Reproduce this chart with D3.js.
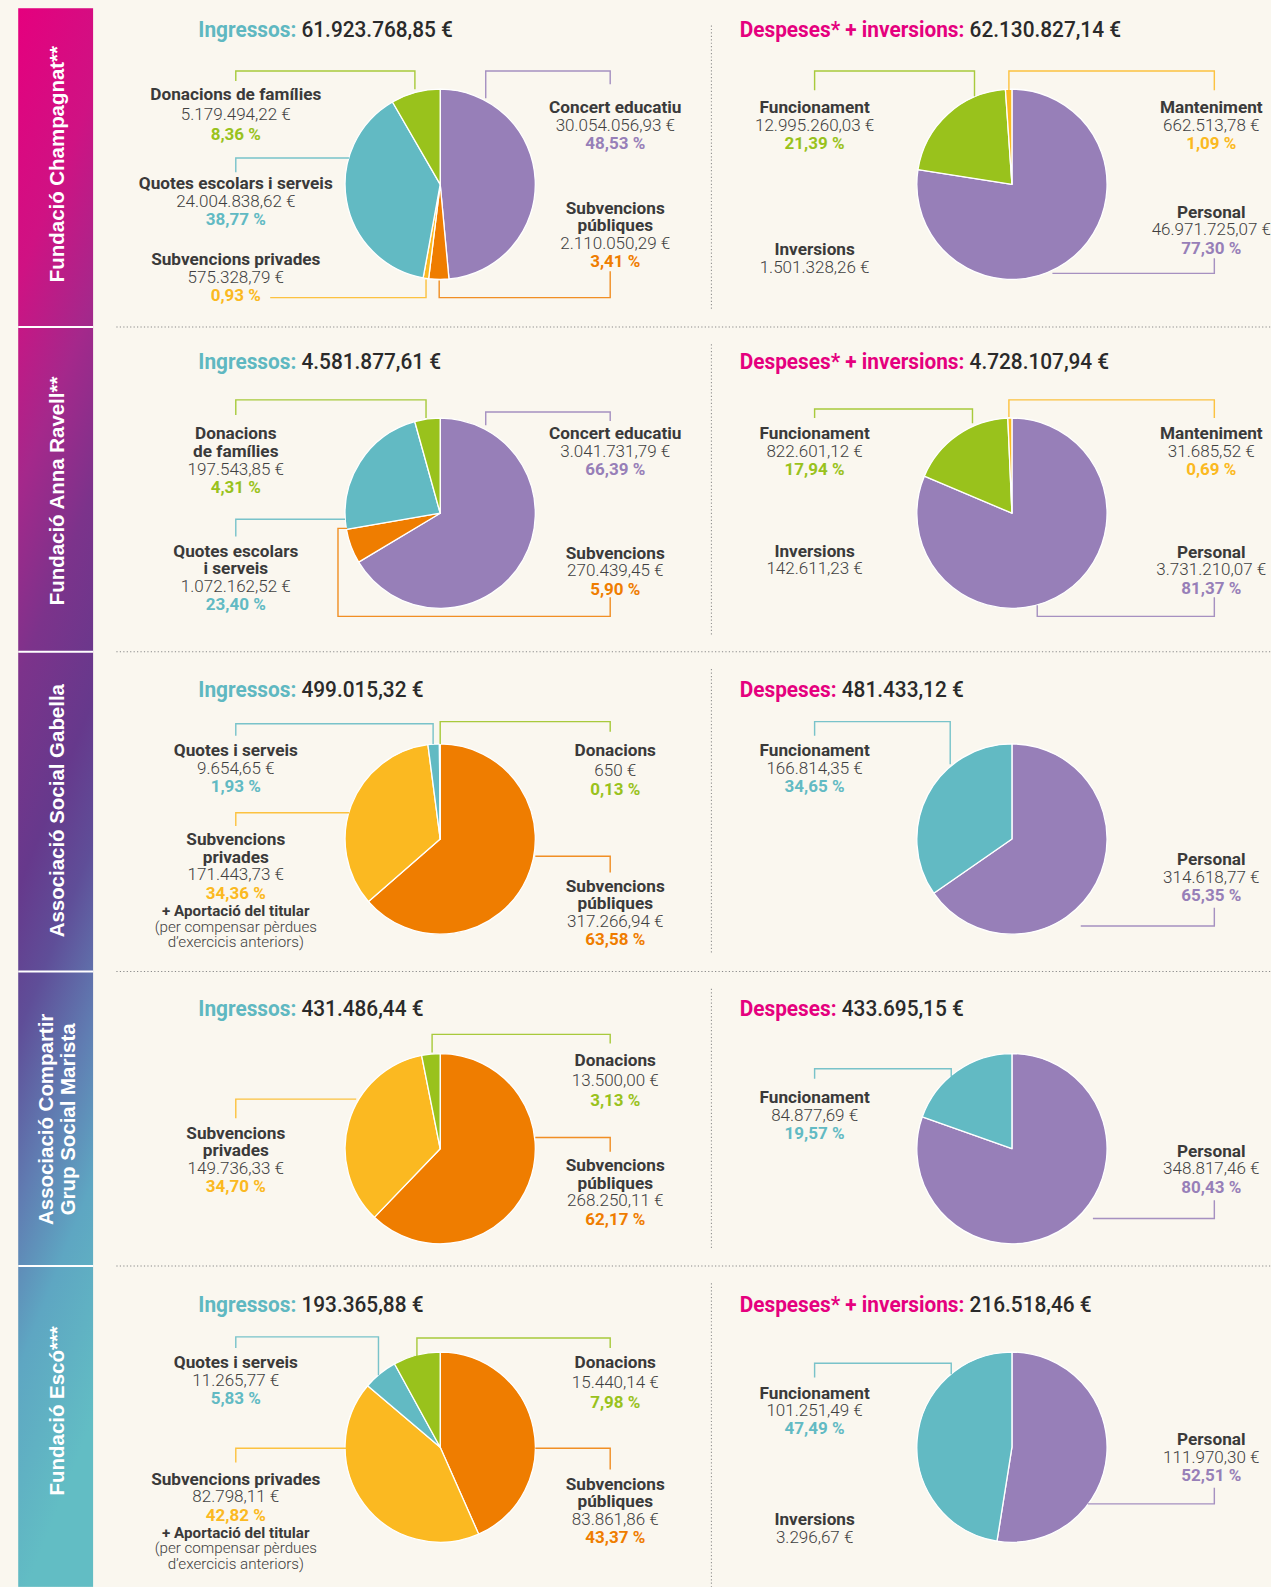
<!DOCTYPE html>
<html><head><meta charset="utf-8">
<script src="https://cdn.jsdelivr.net/npm/d3@7"></script>
<style>
html,body{margin:0;padding:0;background:#FAF7EF;}
svg{display:block;}
</style></head><body>
<svg id="chart" width="1271" height="1587" viewBox="0 0 1256 1568"></svg>
<script>
// ---------------- DATA ----------------
const orgNames = [["Fundació Champagnat**"], ["Fundació Anna Ravell**"], ["Associació Social Gabella"], ["Associació Compartir", "Grup Social Marista"], ["Fundació Escó***"]];
const incomeTitle = "Ingressos:";
const incomeTotals = ["61.923.768,85 €", "4.581.877,61 €", "499.015,32 €", "431.486,44 €", "193.365,88 €"];
const expenseTitles = ["Despeses* + inversions:", "Despeses* + inversions:", "Despeses:", "Despeses:", "Despeses* + inversions:"];
const expenseTotals = ["62.130.827,14 €", "4.728.107,94 €", "481.433,12 €", "433.695,15 €", "216.518,46 €"];
const inversions = ["1.501.328,26 €", "142.611,23 €", null, null, "3.296,67 €"];

const champIngressos = [
  {cat: "Concert educatiu", amount: "30.054.056,93 €", pct: 48.53},
  {cat: "Subvencions públiques", amount: "2.110.050,29 €", pct: 3.41},
  {cat: "Subvencions privades", amount: "575.328,79 €", pct: 0.93},
  {cat: "Quotes escolars i serveis", amount: "24.004.838,62 €", pct: 38.77},
  {cat: "Donacions de famílies", amount: "5.179.494,22 €", pct: 8.36}];
const champDespeses = [
  {cat: "Personal", amount: "46.971.725,07 €", pct: 77.30},
  {cat: "Funcionament", amount: "12.995.260,03 €", pct: 21.39},
  {cat: "Manteniment", amount: "662.513,78 €", pct: 1.09}];
const ravellIngressos = [
  {cat: "Concert educatiu", amount: "3.041.731,79 €", pct: 66.39},
  {cat: "Subvencions públiques", amount: "270.439,45 €", pct: 5.90},
  {cat: "Quotes escolars i serveis", amount: "1.072.162,52 €", pct: 23.40},
  {cat: "Donacions de famílies", amount: "197.543,85 €", pct: 4.31}];
const ravellDespeses = [
  {cat: "Personal", amount: "3.731.210,07 €", pct: 81.37},
  {cat: "Funcionament", amount: "822.601,12 €", pct: 17.94},
  {cat: "Manteniment", amount: "31.685,52 €", pct: 0.69}];
const gabellaIngressos = [
  {cat: "Subvencions públiques", amount: "317.266,94 €", pct: 63.58},
  {cat: "Subvencions privades", amount: "171.443,73 €", pct: 34.36},
  {cat: "Quotes i serveis", amount: "9.654,65 €", pct: 1.93},
  {cat: "Donacions", amount: "650 €", pct: 0.13}];
const gabellaDespeses = [
  {cat: "Personal", amount: "314.618,77 €", pct: 65.35},
  {cat: "Funcionament", amount: "166.814,35 €", pct: 34.65}];
const compartirIngressos = [
  {cat: "Subvencions públiques", amount: "268.250,11 €", pct: 62.17},
  {cat: "Subvencions privades", amount: "149.736,33 €", pct: 34.70},
  {cat: "Donacions", amount: "13.500,00 €", pct: 3.13}];
const compartirDespeses = [
  {cat: "Personal", amount: "348.817,46 €", pct: 80.43},
  {cat: "Funcionament", amount: "84.877,69 €", pct: 19.57}];
const escoIngressos = [
  {cat: "Subvencions públiques", amount: "83.861,86 €", pct: 43.37},
  {cat: "Subvencions privades", amount: "82.798,11 €", pct: 42.82},
  {cat: "Quotes i serveis", amount: "11.265,77 €", pct: 5.83},
  {cat: "Donacions", amount: "15.440,14 €", pct: 7.98}];
const escoDespeses = [
  {cat: "Personal", amount: "111.970,30 €", pct: 52.51},
  {cat: "Funcionament", amount: "101.251,49 €", pct: 47.49}];
const noteLines = ["+ Aportació del titular", "(per compensar pèrdues", "d’exercicis anteriors)"];

// ---------------- STYLE / LAYOUT ----------------
const palette = {purple: "#977FB8", teal: "#62BAC3", green: "#99C21C", orange: "#EF7D00", yellow: "#FBB921"};
const catColorIncome = {"Concert educatiu": "purple", "Subvencions públiques": "orange", "Subvencions privades": "yellow",
  "Quotes escolars i serveis": "teal", "Quotes i serveis": "teal", "Donacions de famílies": "green", "Donacions": "green"};
const expenseFuncColor = ["green", "green", "teal", "teal", "teal"];

const W = 1256, H = 1568;
const rowBounds = [8, 323, 644, 960, 1251, 1568];
const rowCy = [182, 507, 829, 1135, 1430];
const colCx = [435, 1000];
const titleY = [28, 357, 681, 996, 1288];
const titleX = [196, 731];
const sideY = [162, 485, 801, 1106, 1394];
const R = 94;

// label layout relative to pie centre: dx, dy, name lines, leader points, note, line gap
const L = (dx, dy, lines, leader, note, gap) => ({dx, dy, lines, leader, note, gap: gap || 18});
const layouts = [
  [ // row 1
    [L(173, -76, ["Concert educatiu"], [[45,-85],[45,-112],[168,-112],[168,-99]]),
     L(173, 23, ["Subvencions", "públiques"], [[168,86],[168,112],[-1,112],[-1,95]]),
     L(-202, 74, ["Subvencions privades"], [[-168,112],[-14,112],[-14,94]]),
     L(-202, -1, ["Quotes escolars i serveis"], [[-202,-12],[-202,-26],[-90,-26]]),
     L(-202, -89, ["Donacions de famílies"], [[-202,-102],[-202,-112],[-25,-112],[-25,-94]], false, 19.5)],
    [L(197, 27, ["Personal"], [[200,73],[200,88],[40,88]]),
     L(-195, -76, ["Funcionament"], [[-195,-93],[-195,-112],[-37,-112],[-37,-87]]),
     L(197, -76, ["Manteniment"], [[200,-93],[200,-112],[-3,-112],[-3,-92]]),
     L(-195, 64, ["Inversions"], null)]
  ],
  [ // row 2
    [L(173, -79, ["Concert educatiu"], [[45,-87],[45,-100],[168,-100],[168,-91]]),
     L(173, 39, ["Subvencions"], [[168,83],[168,102],[-101,102],[-101,15],[-92,15]]),
     L(-202, 37, ["Quotes escolars", "i serveis"], [[-202,23],[-202,6],[-94,6]]),
     L(-202, -79, ["Donacions", "de famílies"], [[-202,-97],[-202,-112],[-14,-112],[-14,-94]])],
    [L(197, 38, ["Personal"], [[200,83],[200,102],[25,102],[25,91]]),
     L(-195, -79, ["Funcionament"], [[-195,-94],[-195,-103],[-39,-103],[-39,-89]]),
     L(197, -79, ["Manteniment"], [[200,-94],[200,-112],[-3,-112],[-3,-95]]),
     L(-195, 37, ["Inversions"], null)]
  ],
  [ // row 3
    [L(173, 46, ["Subvencions", "públiques"], [[94,17],[168,17],[168,33]]),
     L(-202, 0, ["Subvencions", "privades"], [[-202,-13],[-202,-26],[-90,-26]], true),
     L(-202, -88, ["Quotes i serveis"], [[-202,-102],[-202,-114],[-7,-114],[-7,-94]]),
     L(173, -88, ["Donacions"], [[0,-94],[0,-116],[168,-116],[168,-106]], false, 19.5)],
    [L(197, 20, ["Personal"], [[200,68],[200,86],[68,86]]),
     L(-195, -88, ["Funcionament"], [[-195,-102],[-195,-116],[-61,-116],[-61,-74]])]
  ],
  [ // row 4
    [L(173, 16, ["Subvencions", "públiques"], [[94,-11],[168,-11],[168,3]]),
     L(-202, -16, ["Subvencions", "privades"], [[-202,-30],[-202,-49],[-83,-49]]),
     L(173, -88, ["Donacions"], [[-8,-95],[-8,-113],[168,-113],[168,-104]], false, 20)],
    [L(197, 2, ["Personal"], [[200,51],[200,69],[80,69]]),
     L(-195, -51, ["Funcionament"], [[-195,-69],[-195,-79],[-60,-79],[-60,-71]])]
  ],
  [ // row 5
    [L(173, 36, ["Subvencions", "públiques"], [[94,1],[168,1],[168,22]]),
     L(-202, 31, ["Subvencions privades"], [[-202,15],[-202,1],[-90,1]], true),
     L(-202, -84, ["Quotes i serveis"], [[-202,-98],[-202,-109],[-61,-109],[-61,-71]]),
     L(173, -84, ["Donacions"], [[-23,-88],[-23,-108],[168,-108],[168,-98]], false, 19.5)],
    [L(197, -8, ["Personal"], [[200,40],[200,56],[75,56]]),
     L(-195, -54, ["Funcionament"], [[-195,-69],[-195,-83],[-60,-83],[-60,-72]]),
     L(-195, 71, ["Inversions"], null)]
  ]
];
const incomeData = [champIngressos, ravellIngressos, gabellaIngressos, compartirIngressos, escoIngressos];
const expenseData = [champDespeses, ravellDespeses, gabellaDespeses, compartirDespeses, escoDespeses];

// ---------------- DRAW ----------------
const FONT = "Roboto, 'Noto Sans', sans-serif";
const svg = d3.select("#chart");
const locale = d3.formatLocale({decimal: ",", thousands: ".", grouping: [3], currency: ["", " €"]});
const pctFmt = v => locale.format(".2f")(v) + " %";

svg.append("rect").attr("width", W).attr("height", H).attr("fill", "#FAF7EF");

// sidebar gradient
const defs = svg.append("defs");
const grad = defs.append("linearGradient").attr("id", "side").attr("x1", 0).attr("y1", 0).attr("x2", 0.12).attr("y2", 1);
[[0, "#E5007E"], [0.17, "#CF1283"], [0.3, "#A5288B"], [0.42, "#7C338B"], [0.55, "#66398C"], [0.64, "#5F4E98"], [0.75, "#607DB2"], [0.85, "#5EA6C2"], [1, "#62BDC4"]]
  .forEach(([o, c]) => grad.append("stop").attr("offset", o).attr("stop-color", c));
svg.append("rect").attr("x", 18).attr("y", 8).attr("width", 74).attr("height", H - 8).attr("fill", "url(#side)");

// separators
rowBounds.slice(1, 5).forEach(y => {
  svg.append("line").attr("x1", 18).attr("x2", 92).attr("y1", y).attr("y2", y).attr("stroke", "#fff").attr("stroke-width", 2);
  svg.append("line").attr("x1", 115).attr("x2", 1256).attr("y1", y).attr("y2", y)
    .attr("stroke", "#8a8a8a").attr("stroke-width", 1).attr("stroke-dasharray", "1.2,2.2");
});
rowBounds.slice(0, 5).forEach((y, i) => {
  svg.append("line").attr("x1", 703).attr("x2", 703).attr("y1", y + 17).attr("y2", rowBounds[i + 1] - (i === 4 ? 0 : 17))
    .attr("stroke", "#8a8a8a").attr("stroke-width", 1).attr("stroke-dasharray", "1.2,2.2");
});

// sidebar names
orgNames.forEach((lines, i) => {
  const t = svg.append("text").attr("transform", `translate(56,${sideY[i]}) rotate(-90)`)
    .attr("text-anchor", "middle").attr("fill", "#fff")
    .style("font-family", "'Liberation Sans', Arial, sans-serif").style("font-weight", 700).style("font-size", "20.2px");
  lines.forEach((l, k) => t.append("tspan").attr("x", 0).attr("y", (k - (lines.length - 1) / 2) * 22).attr("dy", "0.35em").text(l));
});

function condensedText(g, x, y, parts, size, anchor, sx) {
  const t = g.append("text").attr("transform", `translate(${x},${y}) scale(${sx || 1},1)`)
    .attr("text-anchor", anchor || "middle").attr("dominant-baseline", "central")
    .style("font-family", FONT).style("font-size", size + "px");
  parts.forEach(p => t.append("tspan").attr("fill", p.fill).style("font-weight", p.weight).text(p.text));
  return t;
}

// titles
for (let i = 0; i < 5; i++) {
  condensedText(svg, titleX[0], titleY[i], [{text: incomeTitle + " ", fill: "#5FB8C1", weight: 700}, {text: incomeTotals[i], fill: "#2a2a2a", weight: 500}], 21, "start", 0.98);
  condensedText(svg, titleX[1], titleY[i], [{text: expenseTitles[i] + " ", fill: "#E5007E", weight: 700}, {text: expenseTotals[i], fill: "#2a2a2a", weight: 500}], 21, "start", 0.98);
}

const pieGen = d3.pie().sort(null).value(d => d.pct);
const arcGen = d3.arc().innerRadius(0).outerRadius(R);
const lineGen = d3.line();

function drawPie(rowIdx, colIdx, data, colorOf, layout) {
  const cx = colCx[colIdx], cy = rowCy[rowIdx];
  const color = d3.scaleOrdinal().domain(data.map(d => d.cat)).range(data.map(d => palette[colorOf(d.cat)]));
  const g = svg.append("g").attr("transform", `translate(${cx},${cy})`);
  g.selectAll("path.slice").data(pieGen(data)).join("path").attr("class", "slice")
    .attr("d", arcGen).attr("fill", d => color(d.data.cat)).attr("stroke", "#fff").attr("stroke-width", 1.3).attr("stroke-linejoin", "round");

  layout.forEach((lab, i) => {
    const d = data[i];
    const isInv = !d;
    const c = isInv ? "#555" : color(d.cat);
    if (lab.leader) {
      g.append("path").attr("d", lineGen(lab.leader)).attr("fill", "none").attr("stroke", c)
        .attr("stroke-width", 1.4).attr("stroke-opacity", 0.85);
    }
    let y = lab.dy;
    lab.lines.forEach(l => { condensedText(g, lab.dx, y, [{text: l, fill: "#3a3a3a", weight: 700}], 17); y += 17.5; });
    if (lab.gap > 18) y += lab.gap - 17.5;
    const amount = isInv ? inversions[rowIdx] : d.amount;
    condensedText(g, lab.dx, y, [{text: amount, fill: "#404040", weight: 300}], 16.8); y += lab.gap;
    if (!isInv) { condensedText(g, lab.dx, y, [{text: pctFmt(d.pct), fill: c, weight: 700}], 16.8); y += 18; }
    if (lab.note) {
      condensedText(g, lab.dx, y, [{text: noteLines[0], fill: "#3a3a3a", weight: 700}], 15); y += 15.5;
      condensedText(g, lab.dx, y, [{text: noteLines[1], fill: "#404040", weight: 300}], 15); y += 15.5;
      condensedText(g, lab.dx, y, [{text: noteLines[2], fill: "#404040", weight: 300}], 15);
    }
  });
}

for (let r = 0; r < 5; r++) {
  drawPie(r, 0, incomeData[r], cat => catColorIncome[cat], layouts[r][0]);
  drawPie(r, 1, expenseData[r], cat => cat === "Personal" ? "purple" : cat === "Manteniment" ? "yellow" : expenseFuncColor[r], layouts[r][1]);
}
</script>
</body></html>
